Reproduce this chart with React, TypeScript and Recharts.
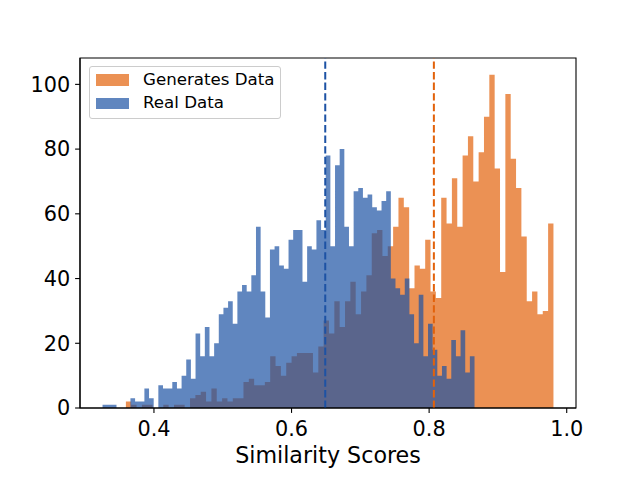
import { Area, ComposedChart, ReferenceArea, ReferenceLine, XAxis, YAxis } from "recharts";

// histogram bins (80 per series)
const realStart = 0.32527;
const realBinWidth = 0.006759;
const realCounts = [
  1, 1, 1, 0, 0, 0, 3, 2, 2, 6,
  3, 0, 7, 6, 6, 8, 6, 10, 15, 9,
  23, 16, 25, 16, 20, 29, 31, 33, 26, 36,
  38, 36, 41, 56, 36, 28, 49, 50, 44, 43,
  52, 55, 55, 39, 50, 49, 58, 55, 78, 50,
  75, 80, 56, 50, 67, 68, 65, 66, 62, 61,
  64, 67, 40, 37, 35, 40, 29, 20, 35, 16,
  26, 18, 10, 13, 9, 21, 16, 24, 11, 16,
];

const generatedStart = 0.35921;
const generatedBinWidth = 0.007769;
const generatedCounts = [
  2, 1, 0, 1, 1, 0, 0, 1, 0, 1,
  1, 0, 3, 4, 5, 2, 6, 2, 3, 2,
  3, 3, 8, 9, 7, 7, 8, 16, 13, 10,
  14, 16, 17, 17, 17, 11, 19, 27, 23, 33,
  25, 33, 39, 29, 36, 41, 54, 55, 47, 50,
  56, 65, 62, 37, 44, 43, 52, 36, 34, 65,
  57, 71, 56, 78, 84, 70, 79, 90, 103, 74,
  42, 97, 77, 68, 53, 33, 36, 29, 30, 57,
];

const realMean = 0.649;
const generatedMean = 0.8069;

const xDomain = [0.2925, 1.0135];
const yDomain = [0, 108.15];
const xTicks = [0.4, 0.6, 0.8, 1.0];
const yTicks = [0, 20, 40, 60, 80, 100];

const BLUE = "#1D52A4";
const ORANGE = "#E2620B";
const FONT = "DejaVu Sans";

function edgesOf(start: number, width: number, counts: number[]) {
  const out: number[] = [];
  for (let i = 0; i <= counts.length; i++) out.push(start + i * width);
  return out;
}

function countAt(x: number, start: number, width: number, counts: number[]) {
  const i = Math.floor((x - start) / width + 1e-6);
  return i >= 0 && i < counts.length ? counts[i] : 0;
}

const edges = [
  ...edgesOf(realStart, realBinWidth, realCounts),
  ...edgesOf(generatedStart, generatedBinWidth, generatedCounts),
].sort((a, b) => a - b);

const data = edges.map((x) => ({
  x,
  real: countAt(x, realStart, realBinWidth, realCounts),
  generated: countAt(x, generatedStart, generatedBinWidth, generatedCounts),
}));

const tickStyle = { fill: "#000", fontSize: 20.8, fontFamily: FONT };
const lineStyle = { stroke: "#000", strokeWidth: 1.1 };

function LegendBox() {
  const items = [
    { label: "Generates Data", color: ORANGE, top: 7 },
    { label: "Real Data", color: BLUE, top: 30.5 },
  ];
  return (
    <div
      style={{
        position: "absolute",
        left: 88.5,
        top: 66,
        width: 190,
        height: 51,
        border: "1px solid #cccccc",
        borderRadius: 3,
        background: "rgba(255,255,255,0.8)",
        fontFamily: FONT,
        fontSize: 16.67,
        color: "#000",
      }}
    >
      {items.map((it) => (
        <div key={it.label}>
          <div
            style={{
              position: "absolute",
              left: 6.5,
              top: it.top,
              width: 33,
              height: 11.7,
              background: it.color,
              opacity: 0.7,
            }}
          />
          <div
            style={{
              position: "absolute",
              left: 53.5,
              top: it.top - 5.5,
              lineHeight: "22px",
              whiteSpace: "nowrap",
            }}
          >
            {it.label}
          </div>
        </div>
      ))}
    </div>
  );
}

export default function App() {
  return (
    <div style={{ position: "absolute", left: 0, top: 0, width: 640, height: 480 }}>
      <ComposedChart
        width={640}
        height={480}
        data={data}
        margin={{ top: 58, right: 64, bottom: 0, left: 0 }}
      >
        <XAxis
          dataKey="x"
          type="number"
          domain={xDomain}
          ticks={xTicks}
          allowDataOverflow
          tickFormatter={(v) => Number(v).toFixed(1)}
          tick={tickStyle}
          tickLine={lineStyle}
          axisLine={lineStyle}
          tickSize={4.9}
          tickMargin={8}
          height={72}
          label={{
            value: "Similarity Scores",
            position: "insideBottom",
            offset: 17,
            fill: "#000",
            fontSize: 22.2,
            fontFamily: FONT,
          }}
        />
        <YAxis
          type="number"
          domain={yDomain}
          ticks={yTicks}
          allowDataOverflow
          tick={tickStyle}
          tickLine={lineStyle}
          axisLine={lineStyle}
          tickSize={4.9}
          tickMargin={4.9}
          width={80}
        />
        <Area
          type="stepAfter"
          dataKey="generated"
          stroke="none"
          fill={ORANGE}
          fillOpacity={0.7}
          dot={false}
          activeDot={false}
          isAnimationActive={false}
        />
        <Area
          type="stepAfter"
          dataKey="real"
          stroke="none"
          fill={BLUE}
          fillOpacity={0.7}
          dot={false}
          activeDot={false}
          isAnimationActive={false}
        />
        <ReferenceLine x={realMean} stroke={BLUE} strokeWidth={2} strokeDasharray="7.4 3.2" />
        <ReferenceLine x={generatedMean} stroke={ORANGE} strokeWidth={2} strokeDasharray="7.4 3.2" />
        <ReferenceArea
          x1={xDomain[0]}
          x2={xDomain[1]}
          y1={yDomain[0]}
          y2={yDomain[1]}
          fill="none"
          fillOpacity={0}
          stroke="#000"
          strokeWidth={1.1}
        />
      </ComposedChart>
      <LegendBox />
    </div>
  );
}
